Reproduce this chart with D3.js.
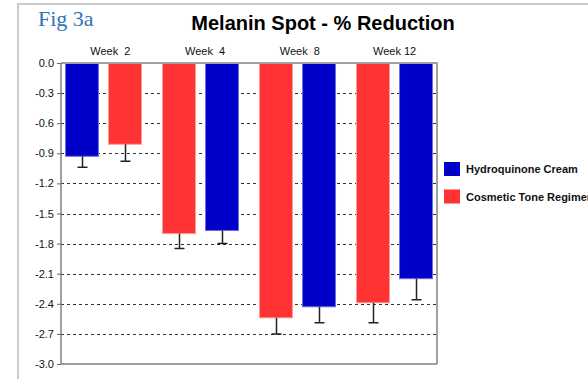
<!DOCTYPE html>
<html>
<head>
<meta charset="utf-8">
<script src="https://cdn.jsdelivr.net/npm/d3@7"></script>
<style>
	body { margin: 0; background: #fff; }
	svg { display: block; font-family: "Liberation Sans", Arial, sans-serif; }
</style>
</head>
<body>
<svg id="chart" width="588" height="379"></svg>
<script>
// --- DATA --- //
var weeks = ["Week  2", "Week  4", "Week  8", "Week 12"];
var seriesNames = ["Hydroquinone Cream", "Cosmetic Tone Regimen"];
var seriesColors = ["#0000c8", "#ff3333"];
var seriesStrokes = ["#7070e0", "#ff9a9a"];
var hydroquinone = [-0.93, -1.67, -2.43, -2.15];
var hydroquinoneErr = [0.11, 0.13, 0.16, 0.21];
var cosmetic = [-0.81, -1.70, -2.54, -2.39];
var cosmeticErr = [0.17, 0.15, 0.16, 0.20];
// which series sits in the left / right slot of each week
var slotOrder = [[0, 1], [1, 0], [1, 0], [1, 0]];
var yTicks = [0, -0.3, -0.6, -0.9, -1.2, -1.5, -1.8, -2.1, -2.4, -2.7, -3.0];

var values = [hydroquinone, cosmetic],
	errors = [hydroquinoneErr, cosmeticErr];

var svg = d3.select("#chart"),
	plotLeft = 61, plotRight = 437, plotTop = 63, plotBottom = 364;

// outer frame (top and left edges only are visible)
svg.append("path")
	.attr("d", "M18,379V4H588")
	.attr("fill", "none")
	.attr("stroke", "#cbcbcb")
	.attr("stroke-width", 2);

// --- SCALES --- //
var x0 = d3.scaleBand().domain(weeks).range([plotLeft, plotRight])
		.paddingInner(0.206).paddingOuter(0.041),
	x1 = d3.scaleBand().domain([0, 1]).range([0, x0.bandwidth()]).paddingInner(0.21),
	xLabel = d3.scaleBand().domain(weeks).range([63, 442]),
	y = d3.scaleLinear().domain([0, -3]).range([plotTop, plotBottom]);

// --- GRID --- //
svg.append("g").selectAll("line")
	.data(yTicks.slice(1, -1))
	.enter().append("line")
	.attr("x1", plotLeft).attr("x2", plotRight)
	.attr("y1", function(d) { return Math.round(y(d)) + 0.5; })
	.attr("y2", function(d) { return Math.round(y(d)) + 0.5; })
	.attr("stroke", "#333")
	.attr("stroke-dasharray", "3,3");

// --- BARS --- //
var bars = [];
weeks.forEach(function(w, i) {
	slotOrder[i].forEach(function(s, slot) {
		bars.push({ week: w, slot: slot, series: s, value: values[s][i], err: errors[s][i] });
	});
});

var barG = svg.append("g");
barG.selectAll("rect")
	.data(bars)
	.enter().append("rect")
	.attr("x", function(d) { return x0(d.week) + x1(d.slot) + 0.5; })
	.attr("y", y(0))
	.attr("width", x1.bandwidth() - 1)
	.attr("height", function(d) { return y(d.value) - y(0); })
	.attr("fill", function(d) { return seriesColors[d.series]; })
	.attr("stroke", function(d) { return seriesStrokes[d.series]; })
	.attr("stroke-width", 1);

// error bars, drawn downward only
var errG = svg.append("g").attr("stroke", "#222").attr("stroke-width", 1.5);
errG.selectAll(".err")
	.data(bars)
	.enter().append("path")
	.attr("fill", "none")
	.attr("d", function(d) {
		var cx = Math.round(x0(d.week) + x1(d.slot) + x1.bandwidth() / 2) + 0.5,
			yv = y(d.value), ye = y(d.value - d.err);
		return "M" + cx + "," + yv + "V" + ye + "M" + (cx - 5) + "," + ye + "H" + (cx + 5);
	});

// --- PLOT FRAME / AXES --- //
svg.append("path")
	.attr("d", "M" + plotLeft + "," + plotTop + "H" + plotRight + "V" + plotBottom)
	.attr("fill", "none").attr("stroke", "#a0a0a0").attr("stroke-width", 2);
svg.append("path")
	.attr("d", "M" + plotLeft + "," + plotTop + "V" + plotBottom + "H" + plotRight)
	.attr("fill", "none").attr("stroke", "#808080").attr("stroke-width", 1.5);

var yAxis = svg.append("g")
	.attr("transform", "translate(" + plotLeft + ",0)")
	.call(d3.axisLeft(y).tickValues(yTicks).tickFormat(d3.format(".1f")).tickSize(4).tickPadding(3));
yAxis.select(".domain").remove();
yAxis.selectAll(".tick line").attr("stroke", "#666");
yAxis.selectAll("text")
	.attr("font-size", 11)
	.attr("font-family", "Liberation Sans, Arial, sans-serif")
	.attr("fill", "#111")
	.text(function(d) { return d3.format(".1f")(d).replace("−", "-"); });

// week labels on top
svg.append("g").selectAll("text")
	.data(weeks)
	.enter().append("text")
	.attr("x", function(d) { return xLabel(d) + xLabel.bandwidth() / 2; })
	.attr("y", 55)
	.attr("text-anchor", "middle")
	.attr("font-size", 11)
	.attr("fill", "#111")
	.style("white-space", "pre")
	.text(function(d) { return d; });

// --- TITLES --- //
svg.append("text")
	.attr("x", 323).attr("y", 30)
	.attr("text-anchor", "middle")
	.attr("font-size", 20)
	.attr("font-weight", "bold")
	.attr("fill", "#000")
	.text("Melanin Spot - % Reduction");

svg.append("text")
	.attr("x", 38).attr("y", 26)
	.attr("font-family", "Liberation Serif, Times New Roman, serif")
	.attr("font-size", 22)
	.attr("fill", "#2e74b5")
	.text("Fig 3a");

// --- LEGEND --- //
var legend = svg.append("g").selectAll("g")
	.data(seriesNames)
	.enter().append("g")
	.attr("transform", function(d, i) { return "translate(444," + (162 + i * 27.5) + ")"; });
legend.append("rect")
	.attr("width", 16).attr("height", 14)
	.attr("fill", function(d, i) { return seriesColors[i]; });
legend.append("text")
	.attr("x", 22).attr("y", 11)
	.attr("font-size", 11)
	.attr("font-weight", "bold")
	.attr("fill", "#111")
	.text(function(d) { return d; });
</script>
</body>
</html>
